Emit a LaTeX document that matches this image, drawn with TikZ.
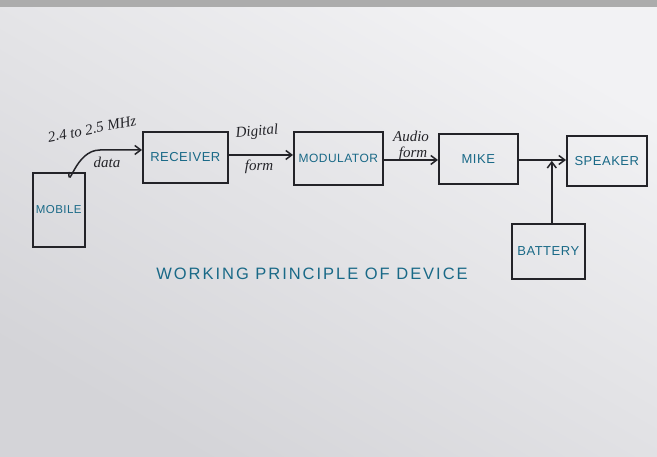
\documentclass[tikz,border=0pt]{standalone}
\usepackage{fontspec}
\setmainfont{Liberation Sans}
\newfontfamily\boxfont[LetterSpace=4]{Liberation Sans}
\newfontfamily\titlefont[LetterSpace=12]{Liberation Sans}
\newfontfamily\handfont{Liberation Serif}
\usetikzlibrary{arrows.meta}
\definecolor{paper}{RGB}{242,242,244}
\definecolor{shadow}{RGB}{212,212,216}
\definecolor{ink}{RGB}{35,35,40}
\definecolor{teal}{RGB}{25,105,135}
\tikzset{
  blk/.style={draw=ink, line width=1.6pt, rectangle, inner sep=0pt, anchor=north west,
              font=\boxfont\fontsize{13}{15}\selectfont, text=teal},
  conn/.style={draw=ink, line width=1.5pt, -{Straight Barb[length=6pt,width=9pt]}},
  lbl/.style={font=\handfont\itshape\fontsize{15}{16}\selectfont, text=ink, inner sep=0pt}
}
\begin{document}
\begin{tikzpicture}[x=1pt,y=-1pt]
\useasboundingbox (0,0) rectangle (657,457);
\shade[top color=paper, bottom color=shadow, shading angle=-30] (0,0) rectangle (657,457);
\fill[gray!65] (0,0) rectangle (657,7);
% boxes
\node[blk, minimum width=52pt, minimum height=74pt] (mob) at (32,172) {};
\node[text=teal, font=\boxfont\fontsize{11.5}{13}\selectfont] at (mob.center) {MOBILE};
\node[blk, minimum width=85pt, minimum height=51pt] (rec) at (142,131) {RECEIVER};
\node[blk, minimum width=89pt, minimum height=53pt, font=\boxfont\fontsize{12}{14}\selectfont] (mod) at (293,131) {MODULATOR};
\node[blk, minimum width=79pt, minimum height=50pt] (mike) at (438,133) {MIKE};
\node[blk, minimum width=80pt, minimum height=50pt] (spk) at (566,135) {SPEAKER};
\node[blk, minimum width=73pt, minimum height=55pt] (bat) at (511,223) {BATTERY};
\coordinate (j) at (bat.north |- spk.west);
% connectors
\draw[conn] ([xshift=10pt]mob.north) .. controls ([xshift=10pt,yshift=-20pt]mob.north) and (75,150) .. (100,150) -- (rec.west |- 0,150);
\draw[conn] (rec.east |- 0,155) -- (mod.west |- 0,155);
\draw[conn] (mod.east |- 0,160) -- (mike.west |- 0,160);
\draw[conn] (mike.east |- 0,160) -- (spk.west |- 0,160);
\draw[conn] ([xshift=3.5pt]bat.north) -- ([xshift=3.5pt]j);
% labels
\node[lbl, rotate=11, font=\handfont\itshape\fontsize{15}{16}\selectfont] (f) at (92,129) {2.4 to 2.5 MHz};
\node[lbl] (d) at (107,162) {data};
\node[lbl, rotate=5] (dg) at (257,132) {Digital};
\node[lbl] (f1) at (259,167) {form};
\node[lbl] (au) at (411,136) {Audio};
\node[lbl] (f2) at (413,154) {form};
\node[font=\titlefont\fontsize{16.5}{18}\selectfont, text=teal] (title) at (312,274) {WORKING PRINCIPLE OF DEVICE};
\end{tikzpicture}
\end{document}
